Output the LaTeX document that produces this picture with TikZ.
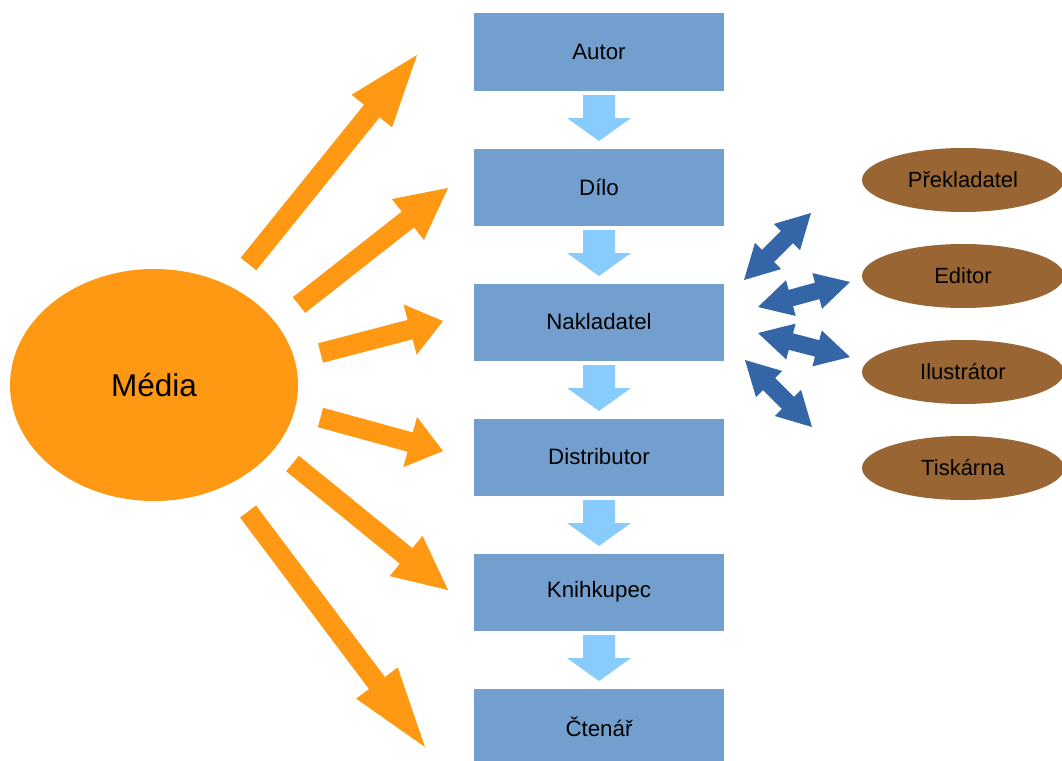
\documentclass[tikz,border=0pt]{standalone}
\usepackage{fontspec}
\setmainfont{Liberation Sans}
\usetikzlibrary{calc,shapes.geometric}
\definecolor{boxblue}{RGB}{115,159,207}
\definecolor{downblue}{RGB}{135,204,252}
\definecolor{orangec}{RGB}{255,152,18}
\definecolor{brownc}{RGB}{153,102,51}
\definecolor{darkblue}{RGB}{52,101,166}
% #1 tail, #2 tip, #3 shaft half width, #4 head half width, #5 head length, #6 colour
\newcommand\myblockarrow[6]{%
  \coordinate (bh) at ($(#2)!#5!(#1)$);
  \fill[#6] ($(#1)!#3!90:(#2)$) -- ($(bh)!#3!90:(#2)$) -- ($(bh)!#4!90:(#2)$) -- (#2)
    -- ($(bh)!#4!-90:(#2)$) -- ($(bh)!#3!-90:(#2)$) -- ($(#1)!#3!-90:(#2)$) -- cycle;
}
% #1 end A, #2 end B, #3 shaft half, #4 head half, #5 head length, #6 colour
\newcommand\mydblarrow[6]{%
  \coordinate (ha) at ($(#1)!#5!(#2)$);
  \coordinate (hb) at ($(#2)!#5!(#1)$);
  \fill[#6] (#1) -- ($(ha)!#4!90:(#2)$) -- ($(ha)!#3!90:(#2)$) -- ($(hb)!#3!90:(#2)$)
    -- ($(hb)!#4!90:(#2)$) -- (#2) -- ($(hb)!#4!-90:(#2)$) -- ($(hb)!#3!-90:(#2)$)
    -- ($(ha)!#3!-90:(#2)$) -- ($(ha)!#4!-90:(#2)$) -- cycle;
}
\tikzset{
  stagebox/.style={rectangle, fill=boxblue, minimum width=250pt, minimum height=77pt,
    inner sep=0pt, font=\fontsize{22.3}{26}\selectfont, text=black},
  helper/.style={ellipse, fill=brownc, minimum width=202pt, minimum height=64pt,
    inner sep=0pt, font=\fontsize{22}{26}\selectfont, text=black},
  media/.style={ellipse, fill=orangec, minimum width=288pt, minimum height=232pt,
    inner sep=0pt, font=\fontsize{31.5}{36}\selectfont, text=black}
}
\begin{document}
\begin{tikzpicture}[x=1pt,y=-1pt]
\useasboundingbox (0,0) rectangle (1062,760);
\clip (0,0) rectangle (1062,760);
% stages
\node[stagebox] (autor) at (599,52) {Autor};
\node[stagebox] (dilo) at (599,187) {Dílo};
\node[stagebox] (nakl) at (599,322) {Nakladatel};
\node[stagebox] (dist) at (599,457) {Distributor};
\node[stagebox] (knih) at (599,592) {Knihkupec};
\node[stagebox] (cten) at (599,727) {Čtenář};
% down arrows
\foreach \k in {0,...,4}{
  \coordinate (dt\k) at (599,{95+135*\k});
  \coordinate (dp\k) at (599,{141+135*\k});
  \myblockarrow{dt\k}{dp\k}{16pt}{32pt}{23pt}{downblue}
}
% media
\node[media] (media) at (154,385) {Média};
% orange arrows
\coordinate (ot1) at (248.5,264);   \coordinate (op1) at (417,55);
\coordinate (ot2) at (299,305);     \coordinate (op2) at (448,188);
\coordinate (ot3) at (320.5,353);   \coordinate (op3) at (443,321);
\coordinate (ot4) at (320.5,417.5); \coordinate (op4) at (443,451);
\coordinate (ot5) at (292.5,463.5); \coordinate (op5) at (448,590);
\coordinate (ot6) at (248,511.5);   \coordinate (op6) at (425,747);
\myblockarrow{ot1}{op1}{10pt}{26pt}{72pt}{orangec}
\myblockarrow{ot2}{op2}{10pt}{26pt}{51pt}{orangec}
\myblockarrow{ot3}{op3}{10pt}{26pt}{34pt}{orangec}
\myblockarrow{ot4}{op4}{10pt}{26pt}{34pt}{orangec}
\myblockarrow{ot5}{op5}{10pt}{26pt}{54pt}{orangec}
\myblockarrow{ot6}{op6}{10pt}{26pt}{80pt}{orangec}
% helpers
\node[helper] (prek) at (963,180) {Překladatel};
\node[helper] (edit) at (963,276) {Editor};
\node[helper] (ilus) at (963,372) {Ilustrátor};
\node[helper] (tisk) at (963,468) {Tiskárna};
% blue double arrows
\coordinate (ba1) at (744,280); \coordinate (bb1) at (811,213);
\coordinate (ba2) at (758,307); \coordinate (bb2) at (850,282);
\coordinate (ba3) at (758,333); \coordinate (bb3) at (850,357);
\coordinate (ba4) at (745,360); \coordinate (bb4) at (812,427);
\foreach \k in {1,...,4}{
  \mydblarrow{ba\k}{bb\k}{8.5pt}{18.5pt}{34pt}{darkblue}
}
\end{tikzpicture}
\end{document}
